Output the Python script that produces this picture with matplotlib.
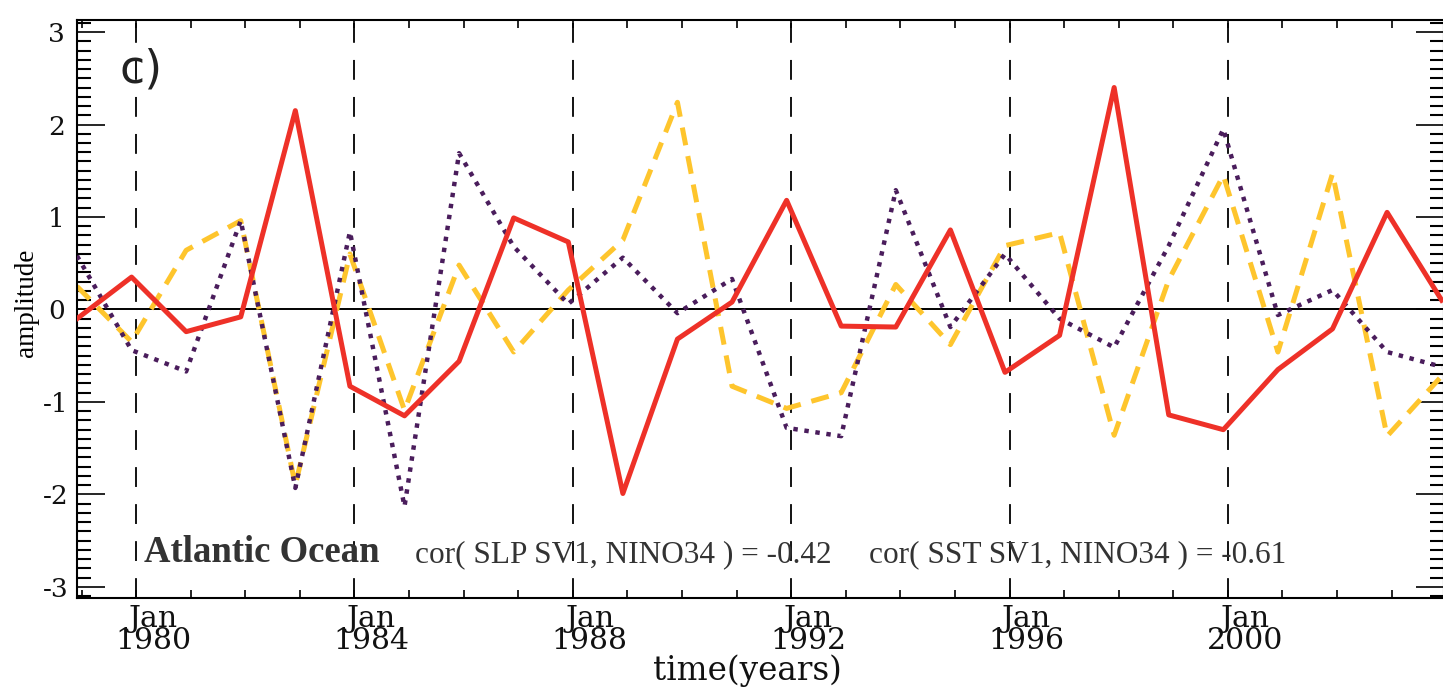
import numpy as np
import matplotlib
matplotlib.use('Agg')
import matplotlib.pyplot as plt
from matplotlib.ticker import MultipleLocator, FixedLocator, NullFormatter

# annual values, plotted at December of each year
years = list(range(1978, 2004))
slp_sv1 = [-0.10, 0.35, -0.24, -0.08, 2.15, -0.83, -1.15, -0.56, 0.99, 0.73,
           -1.99, -0.32, 0.08, 1.18, -0.18, -0.19, 0.86, -0.68, -0.28, 2.40,
           -1.14, -1.30, -0.65, -0.21, 1.05, 0.10]
sst_sv1 = [0.25, -0.35, 0.64, 0.96, -1.90, 0.60, -1.09, 0.48, -0.46, 0.21,
           0.75, 2.24, -0.83, -1.07, -0.90, 0.27, -0.38, 0.69, 0.83, -1.36,
           0.32, 1.45, -0.46, 1.47, -1.37, -0.72]
nino34 = [0.58, -0.44, -0.67, 0.96, -1.93, 0.84, -2.13, 1.69, 0.68, 0.06,
          0.56, -0.04, 0.33, -1.28, -1.37, 1.29, -0.19, 0.60, -0.10, -0.41,
          0.69, 1.95, -0.06, 0.21, -0.46, -0.62]
major_years = [1980, 1984, 1988, 1992, 1996, 2000]
ytick_vals = [-3, -2, -1, 0, 1, 2, 3]
region = 'Atlantic Ocean'
cor_slp = 'cor( SLP SV1, NINO34 ) = -0.42'
cor_sst = 'cor( SST SV1, NINO34 ) = -0.61'

red = '#ee3128'
yellow = '#fec52d'
purple = '#4a1d5c'

W, H = 1443, 688
fig = plt.figure(figsize=(W / 100, H / 100), dpi=100)
ax = fig.add_axes([77 / W, 1 - 598 / H, (1443.5 - 77) / W, (598 - 20) / H])

x = np.array(years) + 11 / 12.

ax.axhline(0, color='black', lw=1.4, zorder=1)
for yr in major_years:
    ax.axvline(yr, color='black', lw=1.3, dashes=(11, 9.5), zorder=1)

ax.plot(x, sst_sv1, color=yellow, lw=3.6, dashes=(3.6, 2.2),
        dash_capstyle='butt', zorder=2)
ax.plot(x, nino34, color=purple, lw=3.2, dashes=(1.0, 1.5),
        dash_capstyle='butt', zorder=3)
ax.plot(x, slp_sv1, color=red, lw=3.6, zorder=4)

ax.set_xlim(1978.917, 2003.95)
ax.set_ylim(-3.12, 3.13)

# ticks: every year on x, every 0.1 on y
ax.xaxis.set_major_locator(FixedLocator(major_years))
ax.xaxis.set_minor_locator(MultipleLocator(1))
ax.xaxis.set_major_formatter(NullFormatter())
ax.tick_params(axis='x', which='both', direction='in', top=True,
               length=6, width=1.2)
ax.set_yticks(ytick_vals)
ax.set_yticklabels([str(v) for v in ytick_vals],
                   family='DejaVu Serif', fontsize=19, color='#111111')
for lab in ax.get_yticklabels():
    lab.set_horizontalalignment('center')
ax.yaxis.set_minor_locator(MultipleLocator(0.1))
ax.tick_params(axis='y', which='major', direction='in', right=True,
               length=20, width=1.2, pad=15)
ax.tick_params(axis='y', which='minor', direction='in', right=True,
               length=10, width=1.5)
for sp in ax.spines.values():
    sp.set_linewidth(1.5)

# two-line date labels under the major ticks
for yr in major_years:
    ax.annotate('Jan\n%d' % yr, xy=(yr, 0),
                xycoords=('data', 'axes fraction'),
                xytext=(17, -51), textcoords='offset pixels',
                ha='center', va='baseline', multialignment='center',
                linespacing=0.72, family='DejaVu Serif', fontsize=21.5,
                color='#111111')

fig.text(747 / W, 1 - 680 / H, 'time(years)', ha='center', va='baseline',
         family='DejaVu Serif', fontsize=23.5, color='#111111')
fig.text(27 / W, 1 - 303 / H, 'amplitude', rotation=90, ha='center',
         va='center', family='Liberation Serif', fontsize=19.5)

ax.text(1979.69, 2.455, 'c)', family='DejaVu Sans', fontsize=33,
        ha='left', va='baseline', color='#222222')
ax.text(1980.15, -2.73, region, family='Liberation Serif', fontweight='bold',
        fontsize=26.5, ha='left', va='baseline', color='#333333')
ax.text(1985.11, -2.73, cor_slp, family='Liberation Serif', fontsize=22.5,
        ha='left', va='baseline', color='#333333')
ax.text(1993.42, -2.73, cor_sst, family='Liberation Serif', fontsize=22.5,
        ha='left', va='baseline', color='#333333')

fig.savefig('out.png', dpi=100)
